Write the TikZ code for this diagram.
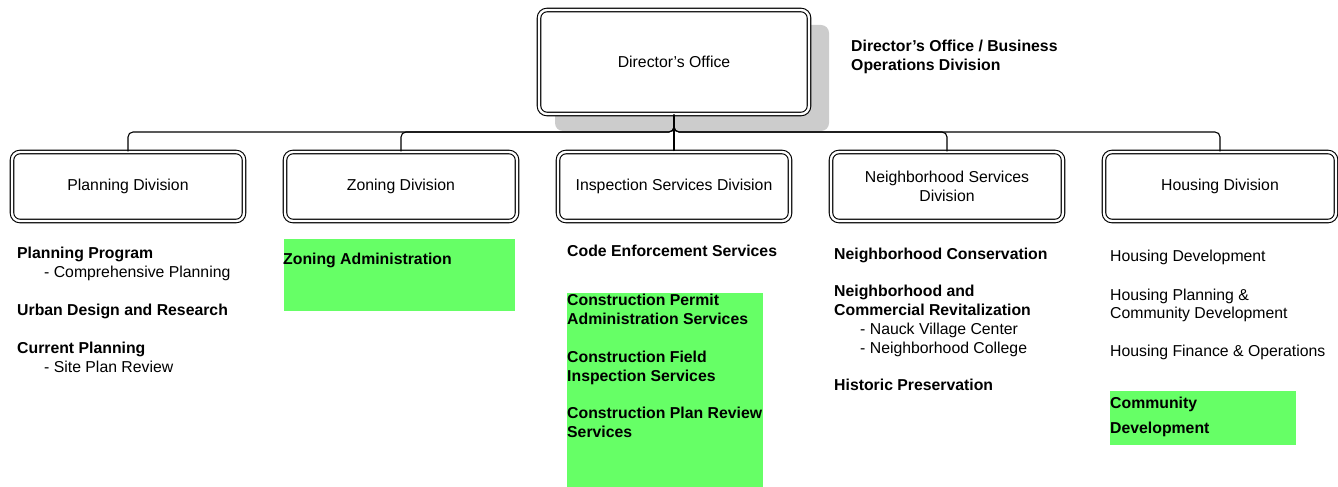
\documentclass[tikz,border=0pt]{standalone}
\usepackage{fontspec}
\setmainfont{Liberation Sans}
\newcommand\myfs{\fontsize{15.8}{19}\selectfont}
\definecolor{grn}{HTML}{66FF66}
\definecolor{shadowgray}{HTML}{CCCCCC}
\begin{document}
\begin{tikzpicture}[x=1pt,y=-1pt,
 box/.style={draw=black, fill=white, line width=1.1pt, double=white, double distance=2.4pt, rounded corners=8pt, minimum width=232pt, minimum height=69pt, align=center, inner sep=0pt, font=\myfs},
 conn/.style={draw=black, line width=1.1pt, rounded corners=5pt},
 item/.style={anchor=base west, inner sep=0pt, font=\myfs},
 bitem/.style={item, font=\myfs\bfseries},
 greenbox/.style={fill=grn, draw=none}
]
\useasboundingbox (0,0) rectangle (1338,487);

% shadow of director box
\fill[shadowgray, rounded corners=8pt] (555,25) rectangle (829,131);

% boxes
\node[box, minimum width=270pt, minimum height=104pt] (d) at (674,62) {Director’s Office};
\node[box] (p) at (128,186.5) {Planning Division};
\node[box] (z) at (401,186.5) {Zoning Division};
\node[box] (i) at (674,186.5) {Inspection Services Division};
\node[box] (n) at (947,186.5) {Neighborhood Services\\Division};
\node[box] (h) at (1220,186.5) {Housing Division};

% connectors
\coordinate (j) at (674,132);
\draw[conn] (p.north) |- (j) -- (d.south);
\draw[conn] (z.north) |- (j) -- (d.south);
\draw[conn] (n.north) |- (j) -- (d.south);
\draw[conn] (h.north) |- (j) -- (d.south);
\draw[conn] (i.north) -- (d.south);

% side label
\node[bitem] (dl1) at (851,51.5) {Director’s Office / Business};
\node[bitem] (dl2) at (851,70.5) {Operations Division};

% green highlights
\fill[greenbox] (284,239) rectangle (515,311);
\fill[greenbox] (567,293) rectangle (763,487);
\fill[greenbox] (1110,391) rectangle (1296,445);

% Planning
\node[bitem] (p1) at (17,258) {Planning Program};
\node[item]  (p2) at (44,277) {- Comprehensive Planning};
\node[bitem] (p3) at (17,315) {Urban Design and Research};
\node[bitem] (p4) at (17,353) {Current Planning};
\node[item]  (p5) at (44,372) {- Site Plan Review};

% Zoning
\node[bitem] (z1) at (283,264.3) {Zoning Administration};

% Inspection
\node[bitem] (i1) at (567,256.7) {Code Enforcement Services};
\node[bitem] (i2) at (567,305) {Construction Permit};
\node[bitem] (i3) at (567,324) {Administration Services};
\node[bitem] (i4) at (567,362) {Construction Field};
\node[bitem] (i5) at (567,381) {Inspection Services};
\node[bitem] (i6) at (567,418.5) {Construction Plan Review};
\node[bitem] (i7) at (567,437.5) {Services};

% Neighborhood
\node[bitem] (n1) at (834,259.3) {Neighborhood Conservation};
\node[bitem] (n2) at (834,296.7) {Neighborhood and};
\node[bitem] (n3) at (834,315.7) {Commercial Revitalization};
\node[item]  (n4) at (860,334.5) {- Nauck Village Center};
\node[item]  (n5) at (860,353.5) {- Neighborhood College};
\node[bitem] (n6) at (834,390.7) {Historic Preservation};

% Housing
\node[item]  (h1) at (1110,261.7) {Housing Development};
\node[item]  (h2) at (1110,300) {Housing Planning \&};
\node[item]  (h3) at (1110,318.5) {Community Development};
\node[item]  (h4) at (1110,356.7) {Housing Finance \& Operations};
\node[bitem] (h5) at (1110,408.3) {Community};
\node[bitem] (h6) at (1110,433.3) {Development};
\end{tikzpicture}
\end{document}
